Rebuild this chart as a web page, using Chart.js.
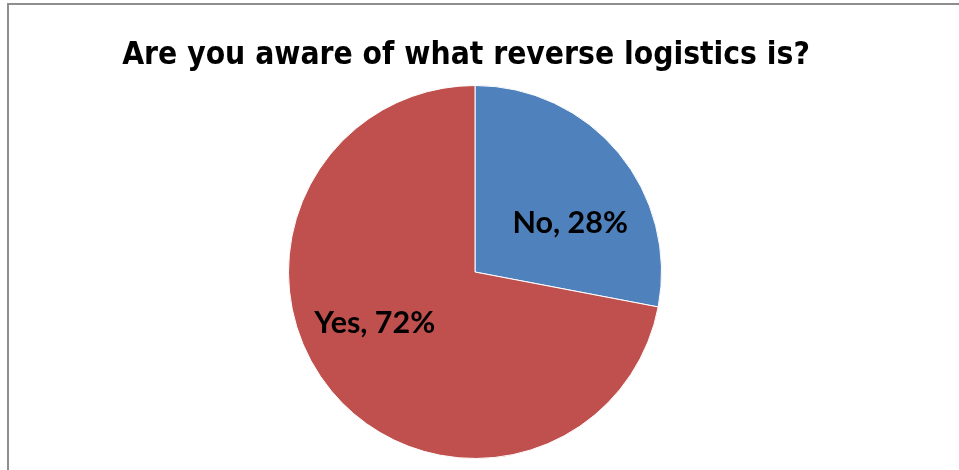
<!DOCTYPE html>
<html>
<head>
<meta charset="utf-8">
<title>Reverse logistics awareness</title>
<script src="https://cdn.jsdelivr.net/npm/chart.js@4/dist/chart.umd.min.js"></script>
<style>
  html, body { margin: 0; padding: 0; background: #fff; }
  #frame {
    position: absolute; left: 7px; top: 3px; width: 952px; height: 467px;
    border-left: 2px solid #8e8e8e; border-top: 2px solid #8e8e8e;
  }
  #wrap { position: absolute; left: 0; top: 0; width: 959px; height: 470px; }
</style>
</head>
<body>
<div id="frame"></div>
<div id="wrap"><canvas id="pie"></canvas></div>
<script>
// survey answers
const answers = ['No', 'Yes'];
const shares  = [28, 72];            // percent of respondents
const sliceColors = ['#4F81BD', '#C0504D'];

const TITLE = 'Are you aware of what reverse logistics is?';

// title + "Label, NN%" text drawn straight on the canvas
const pieText = {
  id: 'pieText',
  afterDatasetsDraw(chart, args, opts) {
    const { ctx } = chart;
    ctx.save();
    ctx.fillStyle = '#000';

    ctx.font = opts.titleFont;
    ctx.textAlign = 'center';
    ctx.textBaseline = 'alphabetic';
    ctx.fillText(TITLE, opts.titleX, opts.titleY);

    ctx.font = opts.labelFont;
    const meta = chart.getDatasetMeta(0);
    meta.data.forEach((arc, i) => {
      const { x, y, startAngle, endAngle, outerRadius } = arc.getProps(['x', 'y', 'startAngle', 'endAngle', 'outerRadius'], true);
      const mid = (startAngle + endAngle) / 2;
      const r = outerRadius * opts.radiusFactor;
      const nudge = opts.nudge[i] || [0, 0];
      const px = x + Math.cos(mid) * r + nudge[0];
      const py = y + Math.sin(mid) * r + nudge[1];
      ctx.fillText(chart.data.labels[i] + ', ' + shares[i] + '%', px, py);
    });
    ctx.restore();
  }
};

new Chart(document.getElementById('pie'), {
  type: 'pie',
  data: {
    labels: answers,
    datasets: [{
      data: shares,
      backgroundColor: sliceColors,
      borderColor: '#ffffff',
      borderWidth: 1,
    }]
  },
  options: {
    responsive: true,
    maintainAspectRatio: false,
    animation: false,
    layout: { padding: { top: 85, bottom: 11, left: 0, right: 9 } },
    plugins: {
      legend: { display: false },
      title: { display: false },
      tooltip: { enabled: false },
      pieText: {
        titleFont: 'bold 31.5px "DejaVu Sans Condensed", "DejaVu Sans"',
        titleX: 466,
        titleY: 64,
        labelFont: 'bold 30.5px Lato',
        radiusFactor: 0.6,
        nudge: [[9, 32], [-14, -10]],
      }
    }
  },
  plugins: [pieText]
});
</script>
</body>
</html>
